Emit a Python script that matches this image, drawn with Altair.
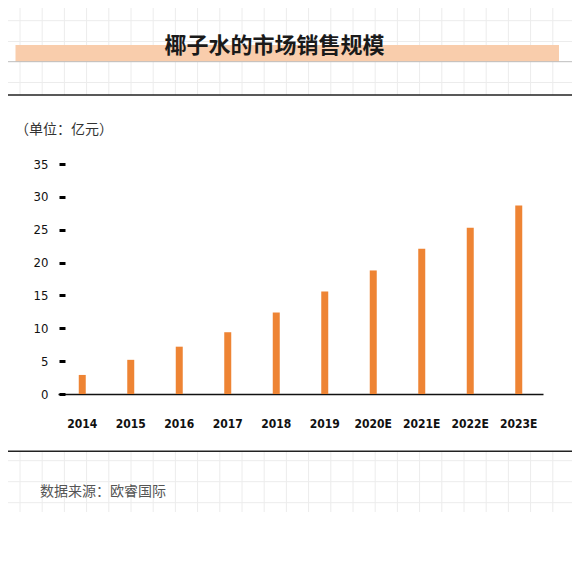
import altair as alt
import pandas as pd

# ---- data ----
years = ["2014", "2015", "2016", "2017", "2018", "2019", "2020E", "2021E", "2022E", "2023E"]
sales = [2.9, 5.2, 7.2, 9.4, 12.4, 15.6, 18.8, 22.1, 25.3, 28.7]
y_ticks = [0, 5, 10, 15, 20, 25, 30, 35]
title_text = ["椰子水的市场销售规模"]
unit_text = ["（单位：亿元）"]
source_text = ["数据来源：欧睿国际"]

df = pd.DataFrame({"year": years, "sales": sales})

CJK = "Noto Sans CJK SC"
NUM = "DejaVu Sans Condensed, Liberation Sans Narrow, Liberation Sans, sans-serif"

W, H = 485, 230
LEFT, TOP, RIGHT, BOTTOM = 50, 156, 29, 186
X0, X1 = -LEFT, W + RIGHT
Y0 = -TOP

# ---- decoration: graph-paper grid ----
grid_x = [-38 + 22.2 * k for k in range(25)]
vgrid = pd.DataFrame({"px": grid_x})

vtop = alt.Chart(vgrid).mark_rule(color="#ececec", strokeWidth=1).encode(
    x=alt.X("px:Q", scale=None, axis=None),
    y=alt.value(Y0), y2=alt.value(-69),
)
vbot = alt.Chart(vgrid).mark_rule(color="#ececec", strokeWidth=1).encode(
    x=alt.X("px:Q", scale=None, axis=None),
    y=alt.value(287), y2=alt.value(348),
)
hgrid = pd.DataFrame({"py": [-143.3, -122.5, -81.5, 296.7, 317.7, 338.7]})
hlines = alt.Chart(hgrid).mark_rule(color="#ececec", strokeWidth=1).encode(
    y=alt.Y("py:Q", scale=None, axis=None),
    x=alt.value(X0), x2=alt.value(X1),
)

one = pd.DataFrame({"a": [0]})

band = alt.Chart(one).mark_rect(color="#F9CDAC").encode(
    x=alt.value(-42.5), x2=alt.value(501), y=alt.value(-119), y2=alt.value(-102.3)
)
gray_line = alt.Chart(one).mark_rule(color="#bdbdbd", strokeWidth=1).encode(
    x=alt.value(X0), x2=alt.value(X1), y=alt.value(-102.3)
)
top_line = alt.Chart(one).mark_rule(color="#222222", strokeWidth=1.6).encode(
    x=alt.value(X0), x2=alt.value(X1), y=alt.value(-69)
)
bot_line = alt.Chart(one).mark_rule(color="#222222", strokeWidth=1.6).encode(
    x=alt.value(X0), x2=alt.value(X1), y=alt.value(287.3)
)

title = alt.Chart(pd.DataFrame({"t": title_text})).mark_text(
    font=CJK, fontSize=22, fontWeight="bold", color="#1a1a1a",
    align="center", baseline="middle"
).encode(text="t:N", x=alt.value(216.5), y=alt.value(-118))

unit = alt.Chart(pd.DataFrame({"t": unit_text})).mark_text(
    font=CJK, fontSize=14, color="#333333", align="left", baseline="middle"
).encode(text="t:N", x=alt.value(-43), y=alt.value(-34))

source = alt.Chart(pd.DataFrame({"t": source_text})).mark_text(
    font=CJK, fontSize=14, color="#555555", align="left", baseline="middle"
).encode(text="t:N", x=alt.value(-18), y=alt.value(327.7))

# ---- the bars ----
bars = alt.Chart(df).mark_bar(size=7, color="#EE8434").encode(
    x=alt.X(
        "year:N", sort=years,
        scale=alt.Scale(paddingInner=0, paddingOuter=0),
        axis=alt.Axis(
            title=None, labelAngle=0, ticks=False, tickSize=0,
            domainColor="#111111", domainWidth=1.5,
            labelFont=NUM, labelFontSize=12, labelFontWeight="bold",
            labelColor="#111111", labelPadding=24,
        ),
    ),
    y=alt.Y(
        "sales:Q",
        scale=alt.Scale(domain=[0, 35], nice=False),
        axis=alt.Axis(
            title=None, values=y_ticks, grid=False, domain=False,
            tickSize=6, tickWidth=3, tickColor="#000000", offset=-7,
            labelPadding=11, labelFont=NUM, labelFontSize=13,
            labelColor="#111111",
        ),
    ),
)

chart = alt.layer(
    vtop, vbot, hlines, band, gray_line, top_line, bot_line,
    title, unit, source, bars
).resolve_scale(x="independent", y="independent").properties(
    width=W, height=H,
    padding={"left": LEFT, "top": TOP, "right": RIGHT, "bottom": BOTTOM},
    autosize=alt.AutoSizeParams(type="none"),
    background="white",
).configure_view(stroke=None)

chart.save("out.html", embed_options={"renderer": "svg", "actions": False})
